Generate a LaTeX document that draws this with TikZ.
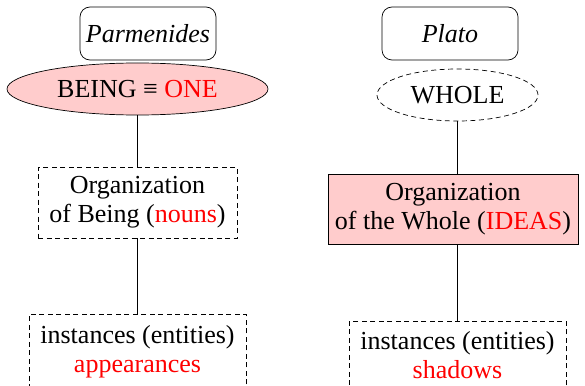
\documentclass[tikz,border=0pt]{standalone}
\usepackage{fontspec}
\setmainfont{Liberation Serif}
\usetikzlibrary{shapes.geometric}
\definecolor{pinkfill}{HTML}{FFCCCC}
\tikzset{
  every node/.style={font=\fontsize{26}{29}\selectfont, align=center, inner sep=0pt},
  namebox/.style={draw, rounded corners=10pt, minimum width=136pt, minimum height=53pt, line width=0.7pt, font=\fontsize{26}{29}\selectfont\itshape},
  ideabox/.style={draw, ellipse, line width=0.7pt},
  orgbox/.style={draw, rectangle, line width=0.7pt},
  dashbox/.style={dash pattern=on 5pt off 3.5pt},
  conn/.style={line width=0.7pt}
}
\begin{document}
\begin{tikzpicture}[x=1pt,y=-1pt]
\useasboundingbox (0,0) rectangle (585,385);
% Parmenides column
\node[namebox] (par) at (148,33.5) {Parmenides};
\node[ideabox, fill=pinkfill, minimum width=261pt, minimum height=52pt] (being) at (137.5,89) {BEING ≡ \textcolor{red}{ONE}};
\node[orgbox, dashbox, minimum width=199pt, minimum height=71pt] (org1) at (137.5,202.5) {Organization\\of Being (\textcolor{red}{nouns})};
\node[orgbox, dashbox, minimum width=217pt, minimum height=74pt, anchor=north] (inst1) at (137.5,314) {instances (entities)\\\textcolor{red}{appearances}};
% Plato column
\node[namebox] (plato) at (450,33.5) {Plato};
\node[ideabox, dashbox, minimum width=161pt, minimum height=52pt] (whole) at (457.5,95) {WHOLE};
\node[orgbox, fill=pinkfill, minimum width=250pt, minimum height=70pt] (org2) at (453,209) {Organization\\of the Whole (\textcolor{red}{IDEAS})};
\node[orgbox, dashbox, minimum width=217pt, minimum height=68pt, anchor=north] (inst2) at (457.5,321) {instances (entities)\\\textcolor{red}{shadows}};
% connectors
\draw[conn] (being.south) -- (org1.north);
\draw[conn] (org1.south) -- (inst1.north);
\draw[conn] (whole.south) -- (whole.south |- org2.north);
\draw[conn] (inst2.north |- org2.south) -- (inst2.north);
\end{tikzpicture}
\end{document}
